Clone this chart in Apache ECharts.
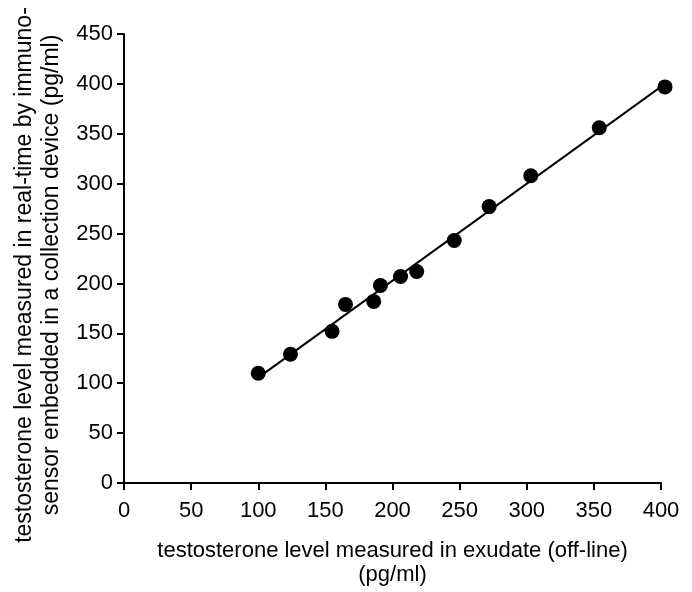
<!DOCTYPE html>
<html>
<head>
<meta charset="utf-8">
<script src="https://cdn.jsdelivr.net/npm/echarts@6/dist/echarts.min.js"></script>
<style>
  html, body { margin: 0; padding: 0; background: #fff; }
  #main { width: 692px; height: 592px; }
</style>
</head>
<body>
<div id="main"></div>
<script>
// values (pg/ml)
var offline = [100, 124, 155, 165, 186, 191, 206, 218, 246, 272, 303, 354, 403];
var realtime = [110, 129, 152, 179, 182, 198, 207, 212, 243, 277, 308, 356, 397];

var xTitle = 'testosterone level measured in exudate (off-line)\n(pg/ml)';
var yTitle = 'testosterone level measured in real-time by immuno-\nsensor embedded in a collection device (pg/ml)';

// least squares line through the points
function fitLine(xs, ys) {
    var n = xs.length, sx = 0, sy = 0, sxx = 0, sxy = 0;
    for (var i = 0; i < n; i++) {
        sx += xs[i]; sy += ys[i];
        sxx += xs[i] * xs[i]; sxy += xs[i] * ys[i];
    }
    var b = (n * sxy - sx * sy) / (n * sxx - sx * sx);
    var a = (sy - b * sx) / n;
    var x0 = Math.min.apply(null, xs), x1 = Math.max.apply(null, xs);
    return [[x0, a + b * x0], [x1, a + b * x1]];
}

var points = offline.map(function (x, i) { return [x, realtime[i]]; });
var fit = fitLine(offline, realtime);

var font = '"Liberation Sans", Arial, sans-serif';

var myChart = echarts.init(document.getElementById('main'));
var option = {
    animation: false,
    backgroundColor: '#fff',
    grid: { left: 124, right: 31, top: 34, bottom: 106 },
    xAxis: {
        type: 'value',
        min: 0, max: 400, interval: 50,
        splitLine: { show: false },
        axisLine: { onZero: false, lineStyle: { color: '#000', width: 2 } },
        axisTick: { length: 7, lineStyle: { color: '#000', width: 2 } },
        axisLabel: { color: '#000', fontSize: 22, fontFamily: font, margin: 17 },
        name: xTitle,
        nameLocation: 'middle',
        nameGap: 56,
        nameTextStyle: { color: '#000', fontSize: 22, fontFamily: font, lineHeight: 24, verticalAlign: 'top' }
    },
    yAxis: {
        type: 'value',
        min: 0, max: 450, interval: 50,
        splitLine: { show: false },
        axisLine: { lineStyle: { color: '#000', width: 2 } },
        axisTick: { length: 7, lineStyle: { color: '#000', width: 2 } },
        axisLabel: { color: '#000', fontSize: 22, fontFamily: font, margin: 11 }
    },
    graphic: [{
        type: 'text',
        x: 38,
        y: 275,
        rotation: Math.PI / 2,
        style: {
            text: yTitle,
            fill: '#000',
            font: '23px ' + font,
            align: 'center',
            verticalAlign: 'middle',
            lineHeight: 27
        }
    }],
    series: [
        {
            type: 'line',
            data: fit,
            symbol: 'none',
            clip: false,
            lineStyle: { color: '#000', width: 2 },
            z: 1
        },
        {
            type: 'scatter',
            data: points,
            symbol: 'circle',
            symbolSize: 15,
            clip: false,
            itemStyle: { color: '#000', opacity: 1 },
            z: 2
        }
    ]
};
myChart.setOption(option);
</script>
</body>
</html>
